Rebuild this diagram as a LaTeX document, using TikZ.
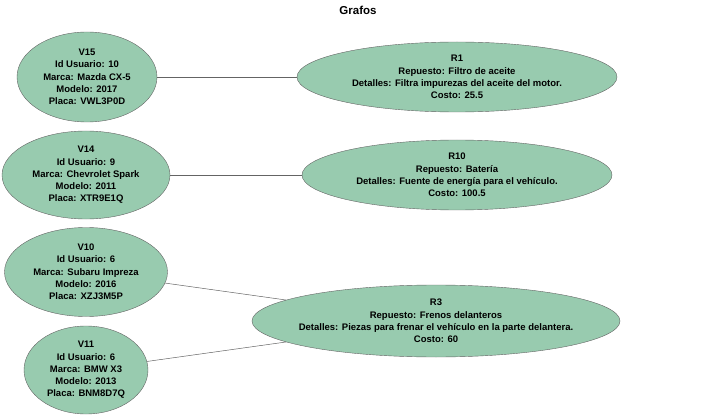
\documentclass[tikz,border=0pt]{standalone}
\usepackage{fontspec}
\setmainfont{Liberation Sans}
\usepackage{tikz}
\usetikzlibrary{shapes.geometric}
\definecolor{nodegreen}{RGB}{152,203,175}
\definecolor{edgegray}{RGB}{100,100,100}

\begin{document}
\begin{tikzpicture}[x=1pt,y=-1pt,
	vert/.style={ellipse, draw=edgegray, fill=nodegreen, inner sep=0pt, align=center,
		font=\bfseries\fontsize{9.5}{12.3}\selectfont},
	link/.style={draw=edgegray, line width=0.5pt}]
	\useasboundingbox (0,0) rectangle (718,417);
	
	% title
	\node[font=\bfseries\fontsize{11.5}{13}\selectfont] (T) at (358,10) {Grafos};
	
	% vehicles
	\node[vert, minimum width=140, minimum height=90] (V15) at (87,77)
		{V15\\Id Usuario: 10\\Marca: Mazda CX-5\\Modelo: 2017\\Placa: VWL3P0D};
	\node[vert, minimum width=168, minimum height=88] (V14) at (86,175)
		{V14\\Id Usuario: 9\\Marca: Chevrolet Spark\\Modelo: 2011\\Placa: XTR9E1Q};
	\node[vert, minimum width=163, minimum height=89] (V10) at (86,272)
		{V10\\Id Usuario: 6\\Marca: Subaru Impreza\\Modelo: 2016\\Placa: XZJ3M5P};
	\node[vert, minimum width=124, minimum height=88] (V11) at (86,370)
		{V11\\Id Usuario: 6\\Marca: BMW X3\\Modelo: 2013\\Placa: BNM8D7Q};
	
	% repuestos
	\node[vert, minimum width=320, minimum height=70] (R1) at (457,77)
		{R1\\Repuesto: Filtro de aceite\\Detalles: Filtra impurezas del aceite del motor.\\Costo: 25.5};
	\node[vert, minimum width=310, minimum height=70] (R10) at (457,175)
		{R10\\Repuesto: Batería\\Detalles: Fuente de energía para el vehículo.\\Costo: 100.5};
	\node[vert, minimum width=368, minimum height=72, inner xsep=-12pt] (R3) at (436,321)
		{R3\\Repuesto: Frenos delanteros\\Detalles: Piezas para frenar el vehículo en la parte delantera.\\Costo: 60};
	
	% edges
	\draw[link] (V15) -- (R1);
	\draw[link] (V14) -- (R10);
	\draw[link] (V10) -- (R3);
	\draw[link] (V11) -- (R3);
\end{tikzpicture}
\end{document}
